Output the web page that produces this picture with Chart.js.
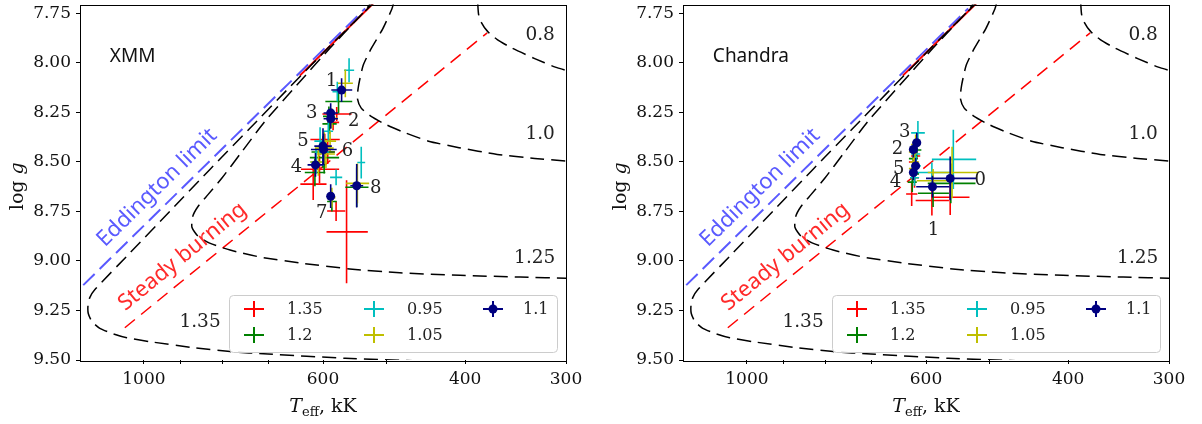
<!DOCTYPE html>
<html>
<head>
<meta charset="utf-8">
<script src="https://cdn.jsdelivr.net/npm/chart.js@4.4.1/dist/chart.umd.min.js"></script>
<style>
  html, body { margin: 0; padding: 0; background: #fff; overflow: hidden; }
  #wrap { position: relative; width: 1202px; height: 424px; }
  canvas { position: absolute; top: 0; }
</style>
</head>
<body>
<div id="wrap">
  <canvas id="xmm" width="599" height="424" style="left:0px"></canvas>
  <canvas id="chandra" width="599" height="424" style="left:603px"></canvas>
</div>
<script>
// ---- axis ticks ----
const xTicks = [300, 400, 500, 600, 700, 800, 900, 1000];
const xTickLabels = [300, 400, 600, 1000];
const yTicks = [7.75, 8.0, 8.25, 8.5, 8.75, 9.0, 9.25, 9.5];

// ---- model curves: Teff (kK) and log g ----
const eddT = [1189, 532];
const eddG = [9.122, 7.725];
const steadyT = [1056, 375.6];
const steadyG = [9.337, 7.848];
const solidT = [641, 517];
const solidG = [8.064, 7.69];

const c135T = [455, 563, 702, 782, 872, 983, 1050, 1092, 1134, 1160, 1172, 1173, 1167, 1150, 1041, 929, 829, 739, 659, 588, 528, 517];
const c135G = [9.505, 9.4915, 9.47, 9.4575, 9.4365, 9.4075, 9.3875, 9.3675, 9.34, 9.305, 9.265, 9.225, 9.185, 9.144, 8.96, 8.75, 8.539, 8.33, 8.12, 7.914, 7.725, 7.69];
const c125T = [296, 342, 406, 482, 556, 641, 718, 782, 829, 857, 872, 870, 857, 833, 800, 760, 708, 641, 588, 532, 522];
const c125G = [9.0875, 9.0815, 9.0725, 9.06, 9.04, 9.01, 8.98, 8.945, 8.91, 8.875, 8.83, 8.775, 8.725, 8.665, 8.58, 8.46, 8.295, 8.095, 7.925, 7.735, 7.69];
const c100T = [490, 493, 506, 523, 535, 542, 544, 538, 523, 501, 474.5, 444, 407, 365, 328, 300, 290];
const c100G = [7.69, 7.728, 7.828, 7.928, 8.012, 8.112, 8.178, 8.228, 8.27, 8.312, 8.353, 8.395, 8.428, 8.462, 8.482, 8.495, 8.50];
const c080T = [386, 385, 382, 375, 365, 350, 328, 310, 300, 290];
const c080G = [7.69, 7.753, 7.795, 7.842, 7.882, 7.925, 7.978, 8.02, 8.037, 8.05];

// contour labels
const contourNames = ['0.8', '1.0', '1.25', '1.35'];
const contourNameT = [323, 323, 328, 852];
const contourNameG = [7.86, 8.36, 8.985, 9.31];

// ---- fitted points: [Teff, log g, dTeff, dlog g] ----
const massLabels = ['1.35', '1.2', '0.95', '1.05', '1.1'];
const massColors = ['#ff0000', '#008000', '#00bfbf', '#bfbf00', '#000080'];

const xmmIds = [1, 2, 3, 4, 5, 6, 7, 8];
const xmm135 = [[577, 8.258, 24, 0.035], [583, 8.30, 10, 0.04], [597, 8.387, 25, 0.03], [617, 8.612, 23, 0.08], [606, 8.537, 33, 0.07], [592, 8.45, 12, 0.06], [578, 8.748, 15, 0.05], [561, 8.853, 33, 0.26]];
const xmm120 = [[574, 8.195, 22, 0.06], [589, 8.308, 12, 0.05], [590, 8.27, 10, 0.05], [614, 8.553, 18, 0.07], [598, 8.478, 25, 0.08], [600, 8.45, 20, 0.08], [585, 8.70, 8, 0.05], [545, 8.628, 18, 0.1]];
const xmm095 = [[557, 8.037, 8, 0.06], [576, 8.145, 8, 0.05], [591, 8.345, 8, 0.05], [612, 8.50, 10, 0.06], [605, 8.395, 10, 0.07], [600, 8.45, 10, 0.07], [578, 8.578, 10, 0.04], [538, 8.503, 6, 0.08]];
const xmm105 = [[563, 8.103, 12, 0.07], [585, 8.28, 10, 0.05], [588, 8.395, 10, 0.05], [608, 8.50, 14, 0.07], [598, 8.43, 16, 0.08], [595, 8.46, 15, 0.07], [585, 8.68, 6, 0.05], [544, 8.608, 18, 0.1]];
const xmm110 = [[569, 8.137, 17, 0.06], [587, 8.282, 12, 0.05], [587, 8.253, 12, 0.05], [613, 8.515, 14, 0.06], [600, 8.42, 15, 0.09], [599, 8.437, 22, 0.08], [587, 8.673, 6, 0.06], [545, 8.62, 10, 0.11]];

const chIds = [0, 1, 2, 3, 4, 5];
const ch135 = [[560, 8.678, 30, 0.09], [590, 8.695, 28, 0.075], [622, 8.50, 8, 0.04], [618, 8.47, 8, 0.04], [625, 8.662, 10, 0.06], [620, 8.58, 8, 0.05]];
const ch120 = [[559, 8.608, 38, 0.10], [588, 8.658, 26, 0.07], [622, 8.483, 8, 0.04], [616, 8.44, 8, 0.04], [624, 8.602, 8, 0.05], [620, 8.56, 8, 0.04]];
const ch095 = [[555, 8.487, 35, 0.15], [590, 8.553, 30, 0.05], [618, 8.46, 8, 0.04], [614, 8.353, 12, 0.06], [620, 8.58, 8, 0.04], [617, 8.52, 8, 0.05]];
const ch105 = [[557, 8.553, 40, 0.13], [588, 8.595, 28, 0.06], [622, 8.45, 8, 0.04], [618, 8.412, 8, 0.05], [622, 8.533, 8, 0.04], [620, 8.5, 8, 0.04]];
const ch110 = [[560, 8.583, 40, 0.11], [589, 8.625, 28, 0.055], [622, 8.437, 7, 0.04], [616, 8.403, 7, 0.05], [622, 8.553, 6, 0.04], [618, 8.52, 7, 0.04]];

// pixel offsets of the point numbers from the 1.1 points
const xmmNumOffsets = [[-10, -9], [23, 3], [-19, 0], [-19, 2], [-20, -5], [24, 2], [-9, 17], [19, 3]];
const chNumOffsets = [[30, 2], [1, 44], [-16, 0], [-12, -10], [-18, 10], [-17, 3]];

const serif = '"DejaVu Serif", serif';
const sans = '"Noto Sans", "Open Sans", sans-serif';

function xy(ts, gs) { return ts.map((t, i) => ({ x: t, y: gs[i] })); }

// error bars drawn under each point series
const errorBars = {
  id: 'errorBars',
  beforeDatasetDraw(chart, args) {
    const ds = chart.data.datasets[args.index];
    if (!ds.errors) return;
    const { ctx, chartArea: a } = chart;
    const xs = chart.scales.x, ys = chart.scales.y;
    ctx.save();
    ctx.beginPath();
    ctx.rect(a.left, a.top, a.right - a.left, a.bottom - a.top);
    ctx.clip();
    ctx.strokeStyle = ds.borderColor;
    ctx.lineWidth = 1.6;
    ds.errors.forEach((e, i) => {
      const p = ds.data[i];
      const px = xs.getPixelForValue(p.x), py = ys.getPixelForValue(p.y);
      ctx.beginPath();
      ctx.moveTo(xs.getPixelForValue(p.x + e[0]), py);
      ctx.lineTo(xs.getPixelForValue(p.x - e[0]), py);
      ctx.moveTo(px, ys.getPixelForValue(p.y - e[1]));
      ctx.lineTo(px, ys.getPixelForValue(p.y + e[1]));
      ctx.stroke();
    });
    ctx.restore();
  }
};

function rotatedText(ctx, xs, ys, text, t, g, lineT, lineG, color) {
  const x1 = xs.getPixelForValue(lineT[0]), y1 = ys.getPixelForValue(lineG[0]);
  const x2 = xs.getPixelForValue(lineT[1]), y2 = ys.getPixelForValue(lineG[1]);
  const ang = Math.atan2(y2 - y1, x2 - x1);
  ctx.save();
  ctx.translate(xs.getPixelForValue(t), ys.getPixelForValue(g));
  ctx.rotate(ang);
  ctx.font = '22px ' + sans;
  ctx.fillStyle = color;
  ctx.textAlign = 'center';
  ctx.textBaseline = 'middle';
  ctx.fillText(text, 0, 0);
  ctx.restore();
}

const decor = {
  id: 'decor',
  afterDatasetsDraw(chart, args, opts) {
    const { ctx, chartArea: a } = chart;
    const xs = chart.scales.x, ys = chart.scales.y;

    // frame
    ctx.save();
    ctx.strokeStyle = '#000';
    ctx.lineWidth = 1;
    ctx.strokeRect(Math.round(a.left) + 0.5, Math.round(a.top) + 0.5, Math.round(a.right - a.left), Math.round(a.bottom - a.top));
    ctx.restore();

    // text inside the axes
    ctx.save();
    ctx.fillStyle = '#222';
    ctx.textAlign = 'center';
    ctx.textBaseline = 'middle';
    ctx.font = '18.5px ' + serif;
    contourNames.forEach((s, i) => {
      ctx.fillText(s, xs.getPixelForValue(contourNameT[i]), ys.getPixelForValue(contourNameG[i]));
    });
    ctx.font = '19px ' + sans;
    ctx.fillStyle = '#111';
    ctx.textAlign = 'left';
    ctx.fillText(opts.title, xs.getPixelForValue(1102), ys.getPixelForValue(7.97));
    ctx.restore();

    rotatedText(ctx, xs, ys, 'Eddington limit', 963, 8.63, eddT, eddG, '#5a5aff');
    rotatedText(ctx, xs, ys, 'Steady burning', 896, 8.978, steadyT, steadyG, '#ff2a2a');

    // point numbers next to the 1.1 points
    const pts = opts.points;
    ctx.save();
    ctx.font = '18px ' + serif;
    ctx.fillStyle = '#222';
    ctx.textAlign = 'center';
    ctx.textBaseline = 'middle';
    opts.ids.forEach((id, i) => {
      const o = opts.offsets[i];
      ctx.fillText(String(id), xs.getPixelForValue(pts[i][0]) + o[0], ys.getPixelForValue(pts[i][1]) + o[1]);
    });
    ctx.restore();

    // legend, 3 columns, filled column by column
    const w = 328, h = 57;
    const L = a.right - 9 - w, T = a.bottom - 8 - h;
    ctx.save();
    ctx.beginPath();
    ctx.roundRect(L + 0.5, T + 0.5, w, h, 4);
    ctx.fillStyle = 'rgba(255,255,255,0.8)';
    ctx.fill();
    ctx.strokeStyle = '#cccccc';
    ctx.lineWidth = 1;
    ctx.stroke();
    const colMark = [25, 145, 264], colText = [58, 178, 294], rowY = [14, 40];
    massLabels.forEach((lab, i) => {
      const col = Math.floor(i / 2), row = i % 2;
      const mx = L + colMark[col], my = T + rowY[row];
      ctx.strokeStyle = massColors[i];
      ctx.lineWidth = 2;
      ctx.beginPath();
      ctx.moveTo(mx - 10, my); ctx.lineTo(mx + 10, my);
      ctx.moveTo(mx, my - 8); ctx.lineTo(mx, my + 8);
      ctx.stroke();
      if (i === 4) {
        ctx.fillStyle = massColors[i];
        ctx.beginPath();
        ctx.arc(mx, my, 4.5, 0, Math.PI * 2);
        ctx.fill();
      }
      ctx.fillStyle = '#222';
      ctx.font = '16px ' + serif;
      ctx.textAlign = 'left';
      ctx.textBaseline = 'middle';
      ctx.fillText(lab, L + colText[col], my + 1);
    });
    ctx.restore();

    // axis titles
    ctx.save();
    ctx.fillStyle = '#111';
    ctx.textBaseline = 'alphabetic';
    const fMain = '19px ' + serif, fIt = 'italic 19px ' + serif, fSub = '13px ' + serif;
    ctx.font = fIt; const wT = ctx.measureText('T').width;
    ctx.font = fSub; const wE = ctx.measureText('eff').width;
    ctx.font = fMain; const wR = ctx.measureText(', kK').width;
    let x = (a.left + a.right) / 2 - (wT + wE + wR) / 2;
    const yb = 412;
    ctx.font = fIt; ctx.fillText('T', x, yb); x += wT;
    ctx.font = fSub; ctx.fillText('eff', x, yb + 4); x += wE;
    ctx.font = fMain; ctx.fillText(', kK', x, yb);

    ctx.translate(a.left - 57, (a.top + a.bottom) / 2 + 4);
    ctx.rotate(-Math.PI / 2);
    ctx.font = fMain; const wl = ctx.measureText('log ').width;
    ctx.font = fIt; const wg = ctx.measureText('g').width;
    let s = -(wl + wg) / 2;
    ctx.font = fMain; ctx.fillText('log ', s, 0);
    ctx.font = fIt; ctx.fillText('g', s + wl, 0);
    ctx.restore();
  }
};

// keep the plot box at fixed pixels: no automatic padding for edge labels
function noPad(s) {
  s.paddingTop = 0; s.paddingBottom = 0; s.paddingLeft = 0; s.paddingRight = 0;
}

function makeChart(canvasId, title, ids, offsets, series) {
  const curveStyle = { type: 'scatter', showLine: true, pointRadius: 0, tension: 0.2, order: 20, clip: 0, fill: false };
  const datasets = [
    Object.assign({}, curveStyle, { data: xy(c135T, c135G), borderColor: '#000', borderWidth: 1.5, borderDash: [14, 7] }),
    Object.assign({}, curveStyle, { data: xy(c125T, c125G), borderColor: '#000', borderWidth: 1.5, borderDash: [14, 7] }),
    Object.assign({}, curveStyle, { data: xy(c100T, c100G), borderColor: '#000', borderWidth: 1.5, borderDash: [14, 7] }),
    Object.assign({}, curveStyle, { data: xy(c080T, c080G), borderColor: '#000', borderWidth: 1.5, borderDash: [14, 7] }),
    Object.assign({}, curveStyle, { data: xy(steadyT, steadyG), borderColor: '#ff0000', borderWidth: 1.5, borderDash: [13, 8], tension: 0 }),
    Object.assign({}, curveStyle, { data: xy(solidT, solidG), borderColor: '#ff0000', borderWidth: 2, tension: 0 }),
    Object.assign({}, curveStyle, { data: xy(eddT, eddG), borderColor: '#5a5aff', borderWidth: 2, borderDash: [16, 7], tension: 0 })
  ];
  series.forEach((rows, k) => {
    datasets.push({
      type: 'scatter',
      label: massLabels[k],
      data: rows.map(r => ({ x: r[0], y: r[1] })),
      errors: rows.map(r => [r[2], r[3]]),
      borderColor: massColors[k],
      backgroundColor: massColors[k],
      pointRadius: k === 4 ? 4.5 : 0,
      pointBorderWidth: 0,
      order: 5 - k
    });
  });

  return new Chart(document.getElementById(canvasId).getContext('2d'), {
    type: 'scatter',
    data: { datasets },
    plugins: [errorBars, decor],
    options: {
      responsive: false,
      animation: false,
      devicePixelRatio: 1,
      layout: { padding: { left: 0, right: 33, top: 2, bottom: 0 } },
      plugins: {
        legend: { display: false },
        tooltip: { enabled: false },
        decor: { title, ids, offsets, points: series[4] }
      },
      scales: {
        x: {
          type: 'logarithmic',
          reverse: true,
          min: 300,
          max: 1200,
          afterBuildTicks: s => { s.ticks = xTicks.map(v => ({ value: v })); },
          afterFit: s => { s.height = 64; noPad(s); },
          grid: { drawOnChartArea: false, drawTicks: true, tickLength: 4, color: '#000' },
          border: { display: false },
          ticks: {
            autoSkip: false, maxRotation: 0, padding: 5, color: '#111',
            font: { family: serif, size: 17 },
            callback: v => xTickLabels.includes(v) ? String(v) : ''
          }
        },
        y: {
          type: 'linear',
          reverse: true,
          min: 7.705,
          max: 9.5,
          afterBuildTicks: s => { s.ticks = yTicks.map(v => ({ value: v })); },
          afterFit: s => { s.width = 80; noPad(s); },
          grid: { drawOnChartArea: false, drawTicks: true, tickLength: 4, color: '#000' },
          border: { display: false },
          ticks: {
            padding: 5, color: '#111',
            font: { family: serif, size: 17 },
            callback: v => v.toFixed(2)
          }
        }
      }
    }
  });
}

makeChart('xmm', 'XMM', xmmIds, xmmNumOffsets, [xmm135, xmm120, xmm095, xmm105, xmm110]);
makeChart('chandra', 'Chandra', chIds, chNumOffsets, [ch135, ch120, ch095, ch105, ch110]);
</script>
</body>
</html>
